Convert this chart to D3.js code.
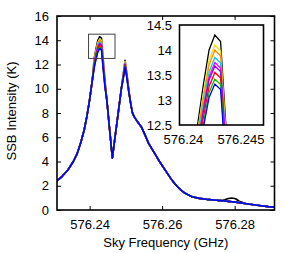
<!DOCTYPE html>
<html>
<head>
<meta charset="utf-8">
<script src="https://cdn.jsdelivr.net/npm/d3@7"></script>
<style>
body { margin: 0; background: #fff; }
text { font-family: "Liberation Sans", Arial, sans-serif; font-size: 13px; fill: #000; }
</style>
</head>
<body>
<svg width="299" height="253"></svg>
<script>
// spectrum shared by all traces (frequency in GHz, SSB intensity in K)
const freqGHz = [
  576.2310, 576.2325, 576.2340, 576.2355, 576.2365, 576.2375, 576.2385, 576.2393, 576.2400, 576.2407,
  576.24127, 576.24177, 576.24227, 576.24277, 576.24327, 576.24377, 576.24427,
  576.24477, 576.24527, 576.24577, 576.24627, 576.24677, 576.24727, 576.24777, 576.24827, 576.24877,
  576.24927, 576.24977, 576.25027, 576.25077,
  576.25127, 576.25177, 576.25227, 576.25327, 576.25427, 576.25527, 576.25627, 576.25727, 576.25827, 576.25927,
  576.26027, 576.26127, 576.26227, 576.26327, 576.26427, 576.26527, 576.26627, 576.26727, 576.26827, 576.27027,
  576.27227, 576.27427, 576.27627, 576.27727, 576.27827, 576.27927, 576.28027, 576.28127, 576.28327, 576.28527,
  576.28727, 576.28927, 576.2910
];
const baseK = [
  2.4, 2.8, 3.3, 4.0, 4.6, 5.5, 6.6, 7.8, 9.1, 10.6,
  12.5, 13.3, 14.0, 14.3, 14.17, 12.35, 10.6,
  9.0, 7.4, 5.85, 4.3, 5.45, 6.6, 7.75, 8.9, 10.05,
  11.2, 12.35, 11.3, 10.0,
  8.9, 8.05, 7.7, 7.25, 6.85, 6.2, 5.5, 5.0, 4.5, 4.0,
  3.55, 3.1, 2.65, 2.25, 1.92, 1.62, 1.4, 1.23, 1.1, 0.96,
  0.88, 0.82, 0.77, 0.74, 0.71, 0.68, 0.65, 0.61, 0.52, 0.43,
  0.35, 0.28, 0.24
];

// traces differ only around the two peaks
const peak1Freq = [576.24127, 576.24177, 576.24227, 576.24277, 576.24327, 576.24377, 576.24427];
const peak1K = [
  [12.5, 13.3, 14.0, 14.3, 14.17, 12.35, 10.6],
  [12.35, 13.12, 13.8, 14.1, 13.98, 12.2, 10.5],
  [12.3, 13.03, 13.7, 14.0, 13.88, 12.12, 10.45],
  [12.18, 12.9, 13.56, 13.85, 13.74, 12.0, 10.35],
  [12.1, 12.82, 13.46, 13.75, 13.64, 11.92, 10.3],
  [12.05, 12.76, 13.4, 13.68, 13.57, 11.86, 10.25],
  [11.95, 12.64, 13.27, 13.55, 13.44, 11.75, 10.2],
  [11.85, 12.52, 13.15, 13.42, 13.31, 11.65, 10.12],
  [11.75, 12.44, 13.05, 13.32, 13.21, 11.56, 10.05]
];
const peak2Freq = [576.24927, 576.24977, 576.25027, 576.25077];
const peak2K = [
  [11.2, 12.35, 11.3, 10.0],
  [11.12, 12.25, 11.22, 9.95],
  [11.08, 12.19, 11.18, 9.93],
  [11.02, 12.1, 11.12, 9.9],
  [10.98, 12.04, 11.08, 9.88],
  [10.95, 12.0, 11.05, 9.86],
  [10.9, 11.93, 11.0, 9.83],
  [10.86, 11.86, 10.95, 9.8],
  [10.82, 11.8, 10.9, 9.78]
];
// small extra bump in the black trace
const bumpFreq = [576.27727, 576.27827, 576.27927, 576.28027, 576.28127];
const bumpK = [0.84, 0.95, 0.99, 0.93, 0.72];

const traceColors = ['#000000', '#f0e010', '#ff8c00', '#00d0e0', '#ff00ff', '#9000e0', '#ff0000', '#00c000', '#0000ff'];

const xTicks = [576.24, 576.26, 576.28];
const yTicks = [0, 2, 4, 6, 8, 10, 12, 14, 16];
const insetXTicks = [576.24, 576.245];
const insetYTicks = [12.5, 13, 13.5, 14, 14.5];

function traceValues(t) {
  return freqGHz.map((f, i) => {
    let j = peak1Freq.indexOf(f);
    if (j >= 0) return [f, peak1K[t][j]];
    j = peak2Freq.indexOf(f);
    if (j >= 0) return [f, peak2K[t][j]];
    if (t === 0) {
      j = bumpFreq.indexOf(f);
      if (j >= 0) return [f, bumpK[j]];
    }
    return [f, baseK[i]];
  });
}
const traces = traceColors.map((c, t) => traceValues(t));

const svg = d3.select('svg');

// main plot
const x = d3.scaleLinear().domain([576.231, 576.291]).range([57, 274.5]);
const y = d3.scaleLinear().domain([0, 16]).range([210, 16]);

svg.append('clipPath').attr('id', 'mainClip')
  .append('rect').attr('x', 57).attr('y', 16).attr('width', 217.5).attr('height', 194);

const line = d3.line().x(d => x(d[0])).y(d => y(d[1]));
svg.append('g').attr('clip-path', 'url(#mainClip)')
  .selectAll('path').data(traces).join('path')
  .attr('d', line)
  .attr('fill', 'none')
  .attr('stroke', (d, i) => traceColors[i])
  .attr('stroke-width', 1.6)
  .attr('stroke-linejoin', 'round');

function styleAxis(g) {
  g.select('.domain').remove();
  g.selectAll('.tick line').attr('stroke', '#000');
  g.selectAll('.tick text').attr('fill', '#000').style('font-size', '13px')
    .style('font-family', '"Liberation Sans", Arial, sans-serif');
}

svg.append('g').attr('transform', 'translate(0,210)')
  .call(d3.axisBottom(x).tickValues(xTicks).tickSizeInner(-4).tickSizeOuter(0).tickPadding(10).tickFormat(d3.format('.2f')))
  .call(styleAxis);
svg.append('g').attr('transform', 'translate(0,16)')
  .call(d3.axisTop(x).tickValues(xTicks).tickSizeInner(-4).tickSizeOuter(0).tickFormat(''))
  .call(styleAxis);
svg.append('g').attr('transform', 'translate(57,0)')
  .call(d3.axisLeft(y).tickValues(yTicks).tickSizeInner(-4).tickSizeOuter(0).tickPadding(8))
  .call(styleAxis);
svg.append('g').attr('transform', 'translate(274.5,0)')
  .call(d3.axisRight(y).tickValues(yTicks).tickSizeInner(-4).tickSizeOuter(0).tickFormat(''))
  .call(styleAxis);

svg.append('rect').attr('x', 57).attr('y', 16).attr('width', 217.5).attr('height', 194)
  .attr('fill', 'none').attr('stroke', '#000').attr('stroke-width', 1.6);

// zoom box on main plot
const ix = d3.scaleLinear().domain([576.2397, 576.247]).range([179.5, 263.5]);
const iy = d3.scaleLinear().domain([12.5, 14.5]).range([125, 25]);

svg.append('rect')
  .attr('x', x(ix.domain()[0])).attr('y', y(iy.domain()[1]))
  .attr('width', x(ix.domain()[1]) - x(ix.domain()[0]))
  .attr('height', y(iy.domain()[0]) - y(iy.domain()[1]))
  .attr('fill', 'none').attr('stroke', '#444').attr('stroke-width', 1);

// inset
svg.append('rect').attr('x', 179.5).attr('y', 25).attr('width', 84).attr('height', 100).attr('fill', '#fff');
svg.append('clipPath').attr('id', 'insetClip')
  .append('rect').attr('x', 179.5).attr('y', 25).attr('width', 84).attr('height', 100);

const insetLine = d3.line().x(d => ix(d[0])).y(d => iy(d[1]));
svg.append('g').attr('clip-path', 'url(#insetClip)')
  .selectAll('path').data(traces).join('path')
  .attr('d', insetLine)
  .attr('fill', 'none')
  .attr('stroke', (d, i) => traceColors[i])
  .attr('stroke-width', 1.3)
  .attr('stroke-linejoin', 'miter');

svg.append('g').attr('transform', 'translate(0,125)')
  .call(d3.axisBottom(ix).tickValues(insetXTicks).tickSize(0).tickPadding(10).tickFormat(d => String(d)))
  .call(styleAxis);
svg.append('g').attr('transform', 'translate(179.5,0)')
  .call(d3.axisLeft(iy).tickValues(insetYTicks).tickSize(0).tickPadding(7.5).tickFormat(d => String(d)))
  .call(styleAxis);

svg.append('rect').attr('x', 179.5).attr('y', 25).attr('width', 84).attr('height', 100)
  .attr('fill', 'none').attr('stroke', '#000').attr('stroke-width', 1.6);

// axis titles
svg.append('text').attr('x', 165.75).attr('y', 247).attr('text-anchor', 'middle')
  .text('Sky Frequency (GHz)');
svg.append('text').attr('transform', 'translate(16,111) rotate(-90)').attr('text-anchor', 'middle')
  .text('SSB Intensity (K)');
</script>
</body>
</html>
